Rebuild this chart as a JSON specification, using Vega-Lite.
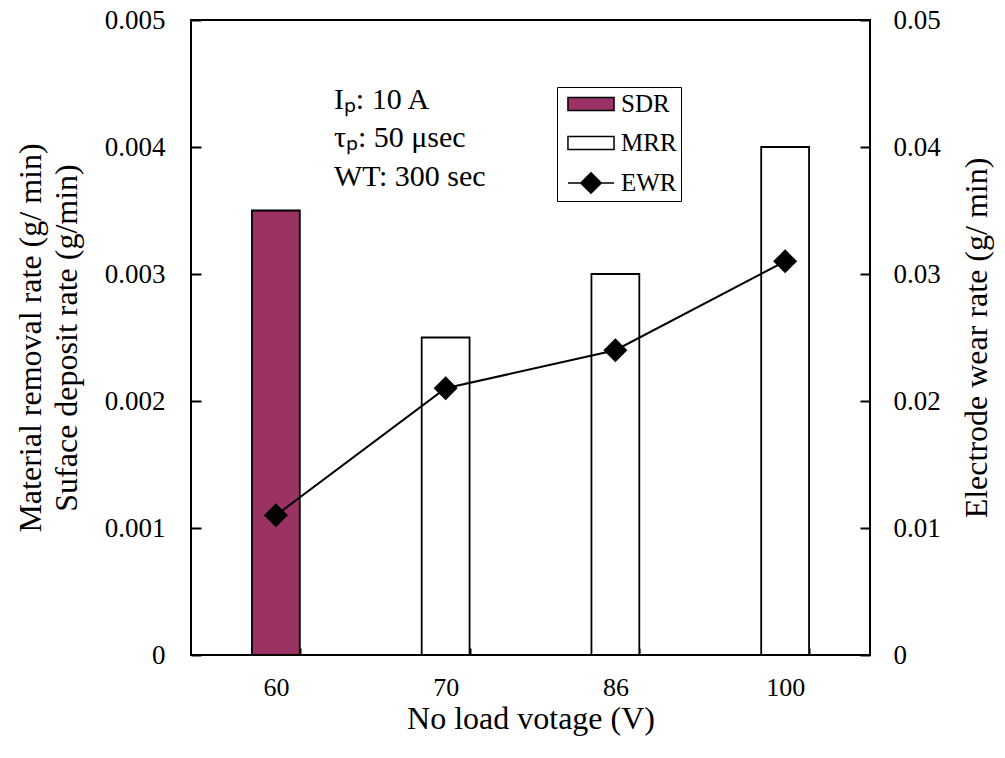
{
  "$schema": "https://vega.github.io/schema/vega-lite/v6.json",
  "autosize": {"type": "none"},
  "padding": {"left": 191, "top": 20, "right": 135, "bottom": 103},
  "width": 679,
  "height": 635,
  "background": "white",
  "config": {
    "view": {"stroke": "black", "strokeWidth": 2},
    "font": "Liberation Serif",
    "axis": {
      "labelFont": "Liberation Serif",
      "labelFontSize": 27,
      "labelColor": "black",
      "titleFont": "Liberation Serif",
      "titleFontSize": 32,
      "titleFontWeight": "normal",
      "titleColor": "black",
      "tickColor": "black",
      "tickWidth": 2,
      "grid": false,
      "domain": false
    }
  },
  "datasets": {
    "removal": [
      {"v": "60", "series": "SDR", "rate": 0.0035},
      {"v": "70", "series": "MRR", "rate": 0.0025},
      {"v": "86", "series": "MRR", "rate": 0.003},
      {"v": "100", "series": "MRR", "rate": 0.004}
    ],
    "notes": [
      {"v": "60", "rate": 0.00437, "note": "Iₚ: 10 A"},
      {"v": "60", "rate": 0.00407, "note": "τₚ: 50 μsec"},
      {"v": "60", "rate": 0.003764, "note": "WT: 300 sec"}
    ],
    "wear": [
      {"v": "60", "ewr": 0.011},
      {"v": "70", "ewr": 0.021},
      {"v": "86", "ewr": 0.024},
      {"v": "100", "ewr": 0.031}
    ]
  },
  "layer": [
    {
      "layer": [
        {
          "data": {"name": "removal"},
          "mark": {"type": "bar", "stroke": "black", "strokeWidth": 1.8},
          "encoding": {
            "x": {
              "field": "v",
              "type": "ordinal",
              "sort": ["60", "70", "86", "100"],
              "scale": {"paddingInner": 0.718, "paddingOuter": 0.359},
              "axis": {
                "title": "No load votage (V)",
                "labelFontSize": 26,
                "labelAngle": 0,
                "tickBand": "extent",
                "tickSize": 7,
                "offset": -7,
                "labelPadding": 19,
                "titlePadding": 3
              }
            },
            "y": {
              "field": "rate",
              "type": "quantitative",
              "scale": {"domain": [0, 0.005]},
              "axis": {
                "orient": "left",
                "values": [0, 0.001, 0.002, 0.003, 0.004, 0.005],
                "labelExpr": "datum.value == 0 ? '0' : format(datum.value, '.3f')",
                "tickSize": 10,
                "offset": -10,
                "labelPadding": 26,
                "title": ["Material removal rate (g/ min)", "Suface deposit rate (g/min)"],
                "titleLineHeight": 36,
                "titlePadding": 21
              }
            },
            "color": {
              "field": "series",
              "type": "nominal",
              "scale": {"domain": ["SDR", "MRR", "EWR"], "range": ["#9a3263", "#ffffff", "#000000"]},
              "legend": {
                "title": null,
                "orient": "none",
                "legendX": 366,
                "legendY": 67,
                "strokeColor": "black",
                "padding": 4,
                "labelFont": "Liberation Serif",
                "labelFontSize": 25,
                "labelColor": "black",
                "symbolSize": 576,
                "symbolOffset": 17,
                "symbolStrokeColor": "black",
                "symbolStrokeWidth": 1.5,
                "symbolOpacity": 1,
                "labelOffset": 17,
                "rowPadding": 13,
                "encode": {
                  "symbols": {
                    "update": {
                      "shape": {"signal": "datum.value === 'EWR' ? 'M-1.92,0H1.92M0,-0.85L0.85,0L0,0.85L-0.85,0Z' : 'M-1.92,-0.55H1.92V0.55H-1.92Z'"},
                      "stroke": {"value": "black"},
                      "strokeWidth": {"value": 1.5}
                    }
                  }
                }
              }
            }
          }
        },
        {
          "data": {"name": "notes"},
          "mark": {"type": "text", "align": "left", "baseline": "middle", "dx": 58, "fontSize": 30, "font": "Liberation Serif", "color": "black"},
          "encoding": {
            "x": {"field": "v", "type": "ordinal", "sort": ["60", "70", "86", "100"]},
            "y": {"field": "rate", "type": "quantitative"},
            "text": {"field": "note"}
          }
        }
      ]
    },
    {
      "data": {"name": "wear"},
      "layer": [
        {
          "mark": {"type": "line", "color": "black", "strokeWidth": 2},
          "encoding": {
            "x": {"field": "v", "type": "ordinal", "sort": ["60", "70", "86", "100"]},
            "y": {
              "field": "ewr",
              "type": "quantitative",
              "scale": {"domain": [0, 0.05]},
              "axis": {
                "orient": "right",
                "values": [0, 0.01, 0.02, 0.03, 0.04, 0.05],
                "labelExpr": "datum.value == 0 ? '0' : format(datum.value, '.2f')",
                "tickSize": 10,
                "offset": -10,
                "labelPadding": 23,
                "title": "Electrode wear rate (g/ min)",
                "titleAngle": -90,
                "titleBaseline": "top",
                "titlePadding": 21
              }
            }
          }
        },
        {
          "mark": {"type": "point", "shape": "diamond", "filled": true, "color": "black", "size": 576, "opacity": 1},
          "encoding": {
            "x": {"field": "v", "type": "ordinal", "sort": ["60", "70", "86", "100"]},
            "y": {"field": "ewr", "type": "quantitative"}
          }
        }
      ]
    }
  ],
  "resolve": {"scale": {"y": "independent"}}
}
